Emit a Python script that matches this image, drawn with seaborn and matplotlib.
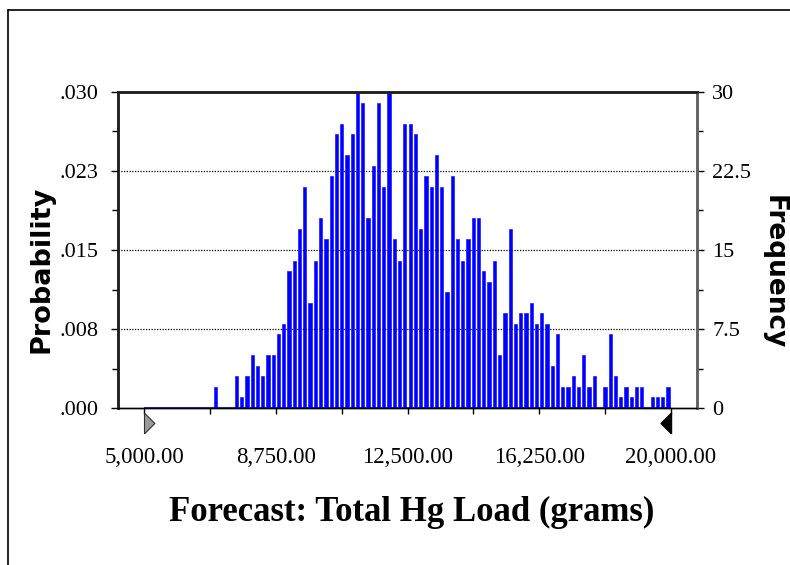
import numpy as np
import pandas as pd
import matplotlib
matplotlib.use("Agg")
import matplotlib.pyplot as plt
from matplotlib.lines import Line2D
from matplotlib.path import Path
from matplotlib.ticker import FixedLocator, FuncFormatter
import matplotlib.transforms as mtransforms
import seaborn as sns

# Dados do histograma (frequencia por classe, 100 classes de 150 g entre 5000 e 20000)
bin_start = 5000
bin_width = 150
counts = [0, 0, 0, 0, 0, 0, 0, 0, 0, 0,
          0, 0, 0, 2, 0, 0, 0, 3, 1, 3,
          5, 4, 3, 5, 5, 7, 8, 13, 14, 17,
          21, 10, 14, 18, 16, 22, 26, 27, 24, 26,
          30, 29, 18, 23, 29, 21, 30, 16, 14, 27,
          27, 26, 17, 22, 21, 24, 21, 11, 22, 16,
          14, 16, 18, 18, 13, 12, 14, 5, 9, 17,
          8, 9, 9, 10, 8, 9, 8, 4, 7, 2,
          2, 3, 2, 5, 2, 3, 0, 2, 7, 3,
          1, 2, 1, 2, 2, 0, 1, 1, 1, 2]
n_trials = 1000
range_lo = 5000
range_hi = 20000

freq_ticks = [0, 7.5, 15, 22.5, 30]
freq_minor = [3.75, 11.25, 18.75, 26.25]
freq_labels = ['0', '7.5', '15', '22.5', '30']
prob_labels = ['.000', '.008', '.015', '.023', '.030']
x_ticks = [5000, 8750, 12500, 16250, 20000]
x_minor = [6875, 10625, 14375, 18125]

centros = bin_start + bin_width * (np.arange(len(counts)) + 0.5)
df = pd.DataFrame({'centro': centros, 'freq': counts})

sns.set_style('white')
plt.rcParams['font.family'] = ['Liberation Serif', 'DejaVu Serif']
plt.rcParams['text.color'] = 'black'
plt.rcParams['xtick.color'] = 'black'
plt.rcParams['ytick.color'] = 'black'

fig = plt.figure(figsize=(7.9, 5.65), dpi=100)
ax = fig.add_axes([118 / 790, 1 - 408 / 565, 579 / 790, 316 / 565])
ax2 = ax.twinx()

# Barras do histograma
sns.histplot(data=df, x='centro', weights='freq', binwidth=bin_width,
             binrange=(range_lo, range_hi), shrink=0.62,
             color='#0000ff', edgecolor='#0000ff', linewidth=0.4, alpha=1,
             ax=ax)
ax.plot([range_lo, range_hi], [0, 0], color='#0000ff', lw=1.2, zorder=3,
        solid_capstyle='butt')

ax.set_xlim(4250, 20750)
ax.set_ylim(0, 30)
ax.set_xlabel('')
ax.set_ylabel('')

# grade pontilhada
for v in freq_ticks[1:-1]:
    ax.axhline(v, color='black', lw=0.9, ls=(0, (1, 1.2)), zorder=0)

# eixo de frequencia a direita
ax.yaxis.set_major_locator(FixedLocator(freq_ticks))
ax.set_yticklabels(freq_labels)
ax.yaxis.set_minor_locator(FixedLocator(freq_minor))
ax.tick_params(axis='y', which='both', direction='out', width=1,
               left=False, right=True, labelleft=False, labelright=True)
ax.tick_params(axis='y', which='major', length=5, labelsize=16, pad=6)
ax.tick_params(axis='y', which='minor', length=4)

ax.xaxis.set_major_locator(FixedLocator(x_ticks))
ax.xaxis.set_minor_locator(FixedLocator(x_minor))
ax.xaxis.set_major_formatter(FuncFormatter(lambda v, p: f'{v:,.2f}'))
ax.tick_params(axis='x', which='both', direction='out', length=4, width=1,
               labelsize=16.5, pad=24, bottom=True)

# eixo de probabilidade a esquerda
ax2.set_ylim(0, 30 / n_trials)
ax2.yaxis.set_major_locator(FixedLocator([t / n_trials for t in freq_ticks]))
ax2.set_yticklabels(prob_labels)
ax2.yaxis.set_minor_locator(FixedLocator([t / n_trials for t in freq_minor]))
ax2.tick_params(axis='y', which='both', direction='out', width=1,
                left=True, right=False, labelleft=True, labelright=False)
ax2.tick_params(axis='y', which='major', length=5, labelsize=16, pad=9)
ax2.tick_params(axis='y', which='minor', length=4)

for a in (ax, ax2):
    for side in ['left', 'top']:
        a.spines[side].set_color('#202020')
        a.spines[side].set_linewidth(1.8)
    a.spines['right'].set_color('#606060')
    a.spines['right'].set_linewidth(1.8)
    a.spines['bottom'].set_color('black')
    a.spines['bottom'].set_linewidth(1.0)

# triangulos da faixa de certeza
trans = mtransforms.blended_transform_factory(ax.transData, ax.transAxes)
tri_right = Path([(0, -1), (1, 0), (0, 1), (0, -1)])
tri_left = Path([(0, -1), (-1, 0), (0, 1), (0, -1)])
ax.plot([range_lo], [-0.046], marker=tri_right, markersize=15,
        markerfacecolor='#9a9a9a', markeredgecolor='#303030', markeredgewidth=0.8,
        transform=trans, clip_on=False, ls='none')
ax.plot([range_hi], [-0.046], marker=tri_left, markersize=15,
        markerfacecolor='black', markeredgecolor='black',
        transform=trans, clip_on=False, ls='none')

# rotulos
fig.text(42 / 790, 1 - 269 / 565, 'Probability', rotation=90, ha='center',
         va='center', fontsize=19.5, fontweight='bold', family='DejaVu Sans')
fig.text(774 / 790, 1 - 272 / 565, 'Frequency', rotation=-90, ha='center',
         va='center', fontsize=19, fontweight='bold', family='DejaVu Sans')
fig.text(412 / 790, 1 - 512 / 565, 'Forecast: Total Hg Load (grams)',
         ha='center', va='center', fontsize=25, fontweight='bold')

# moldura da janela
fig.add_artist(Line2D([8 / 790, 8 / 790], [0, 1 - 9.5 / 565], color='black',
                      lw=1.2, transform=fig.transFigure))
fig.add_artist(Line2D([8 / 790, 1], [1 - 9.5 / 565, 1 - 9.5 / 565], color='black',
                      lw=1.2, transform=fig.transFigure))

fig.savefig('out.png', dpi=100)
